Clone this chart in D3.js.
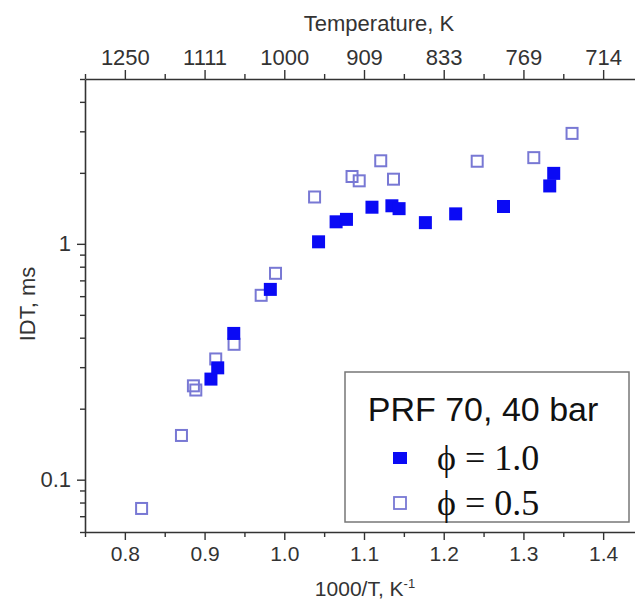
<!DOCTYPE html>
<html>
<head>
<meta charset="utf-8">
<script src="https://cdn.jsdelivr.net/npm/d3@7"></script>
<style>
  html, body { margin: 0; padding: 0; background: #fff; }
  svg { display: block; }
</style>
</head>
<body>
<svg id="chart" width="635" height="602"></svg>
<script>
// ---- data ----
const phi10X = [0.908, 0.9165, 0.9366, 0.9825, 1.043, 1.065, 1.078, 1.110, 1.135, 1.144, 1.177, 1.215, 1.275, 1.333, 1.338];
const phi10Y = [0.267, 0.298, 0.417, 0.641, 1.02, 1.24, 1.27, 1.43, 1.45, 1.41, 1.23, 1.34, 1.44, 1.76, 1.99];
const phi05X = [0.821, 0.871, 0.886, 0.889, 0.914, 0.937, 0.971, 0.989, 1.038, 1.085, 1.094, 1.121, 1.137, 1.242, 1.313, 1.361];
const phi05Y = [0.0755, 0.154, 0.250, 0.240, 0.325, 0.375, 0.605, 0.75, 1.58, 1.93, 1.85, 2.25, 1.88, 2.24, 2.32, 2.94];
const xTicks = [0.8, 0.9, 1.0, 1.1, 1.2, 1.3, 1.4];
const xTickLabels = ["0.8", "0.9", "1.0", "1.1", "1.2", "1.3", "1.4"];
const xMinorTicks = [0.75, 0.85, 0.95, 1.05, 1.15, 1.25, 1.35];
const tempLabels = ["1250", "1111", "1000", "909", "833", "769", "714"];
const yTicks = [0.1, 1];
const yTickLabels = ["0.1", "1"];
const yMinorTicks = [0.06, 0.07, 0.08, 0.09, 0.2, 0.3, 0.4, 0.5, 0.6, 0.7, 0.8, 0.9, 2, 3, 4, 5];
const legendTitle = "PRF 70, 40 bar";
const seriesNames = ["\u03D5 = 1.0", "\u03D5 = 0.5"];
const xLabel = "1000/T, K";
const topLabel = "Temperature, K";
const yLabel = "IDT, ms";

// ---- layout ----
const mLeft = 85, mTop = 79, mRight = 643, mBottom = 532;
const sans = "'Liberation Sans', Arial, sans-serif";
const serif = "'Liberation Serif', 'Times New Roman', serif";
const axisColor = "#333";
const textColor = "#333";
const fillBlue = "#0a0af5";
const openBlue = "#7878d4";

const svg = d3.select("#chart");
const x = d3.scaleLinear().domain([0.75, 1.45]).range([mLeft, mRight]);
const y = d3.scaleLog().domain([0.06, 5]).range([mBottom, mTop]);

function styleAxis(g, fs) {
  g.selectAll("path.domain").attr("stroke", axisColor).attr("stroke-width", 1.6);
  g.selectAll(".tick line").attr("stroke", axisColor).attr("stroke-width", 1.4);
  g.selectAll(".tick text").attr("fill", textColor).style("font-family", sans).style("font-size", fs + "px");
}

// bottom axis
const gB = svg.append("g").attr("transform", `translate(0,${mBottom})`);
gB.call(d3.axisBottom(x).tickValues(xMinorTicks).tickSize(5).tickSizeOuter(0).tickFormat(""));
gB.append("g").call(d3.axisBottom(x).tickValues(xTicks).tickSize(8).tickSizeOuter(0)
  .tickFormat((d, i) => xTickLabels[i]).tickPadding(6)).select("path.domain").remove();
styleAxis(gB, 21);

// top axis
const gT = svg.append("g").attr("transform", `translate(0,${mTop})`);
gT.call(d3.axisTop(x).tickValues(xMinorTicks).tickSize(5).tickSizeOuter(0).tickFormat(""));
gT.append("g").call(d3.axisTop(x).tickValues(xTicks).tickSize(9).tickSizeOuter(0)
  .tickFormat((d, i) => tempLabels[i]).tickPadding(5)).select("path.domain").remove();
styleAxis(gT, 22);

// left axis
const gL = svg.append("g").attr("transform", `translate(${mLeft},0)`);
gL.call(d3.axisLeft(y).tickValues(yMinorTicks).tickSize(5).tickSizeOuter(0).tickFormat(""));
gL.append("g").call(d3.axisLeft(y).tickValues(yTicks).tickSize(8).tickSizeOuter(0)
  .tickFormat((d, i) => yTickLabels[i]).tickPadding(6)).select("path.domain").remove();
styleAxis(gL, 22);

// axis titles
svg.append("text").attr("x", 379).attr("y", 31).attr("text-anchor", "middle")
  .style("font-family", sans).style("font-size", "22px").attr("fill", textColor).text(topLabel);
const xl = svg.append("text").attr("x", 365).attr("y", 596).attr("text-anchor", "middle")
  .style("font-family", sans).style("font-size", "21px").attr("fill", textColor);
xl.append("tspan").text(xLabel);
xl.append("tspan").attr("dy", -8).style("font-size", "13px").text("-1");
svg.append("text").attr("transform", "translate(35,304) rotate(-90)").attr("text-anchor", "middle")
  .style("font-family", sans).style("font-size", "22px").attr("fill", textColor).text(yLabel);

// data
const S = 13;
const d10 = phi10X.map((v, i) => ({ x: v, y: phi10Y[i] }));
const d05 = phi05X.map((v, i) => ({ x: v, y: phi05Y[i] }));

svg.append("g").selectAll("rect").data(d05).join("rect")
  .attr("x", d => x(d.x) - (S - 2) / 2).attr("y", d => y(d.y) - (S - 2) / 2)
  .attr("width", S - 2).attr("height", S - 2)
  .attr("fill", "none").attr("stroke", openBlue).attr("stroke-width", 2);

svg.append("g").selectAll("rect").data(d10).join("rect")
  .attr("x", d => x(d.x) - S / 2).attr("y", d => y(d.y) - S / 2)
  .attr("width", S).attr("height", S).attr("fill", fillBlue);

// legend
const lg = svg.append("g");
lg.append("rect").attr("x", 345).attr("y", 372).attr("width", 284).attr("height", 150)
  .attr("fill", "#fff").attr("stroke", "#777").attr("stroke-width", 1.5);
lg.append("text").attr("x", 483).attr("y", 421).attr("text-anchor", "middle")
  .style("font-family", sans).style("font-size", "34px").attr("fill", "#111").text(legendTitle);
lg.append("rect").attr("x", 400 - 7).attr("y", 458 - 6).attr("width", 14).attr("height", 12).attr("fill", fillBlue);
lg.append("rect").attr("x", 400 - 6).attr("y", 503 - 6).attr("width", 12).attr("height", 12)
  .attr("fill", "none").attr("stroke", openBlue).attr("stroke-width", 1.8);
lg.append("text").attr("x", 437).attr("y", 470)
  .style("font-family", serif).style("font-size", "36px").attr("fill", "#111").text(seriesNames[0]);
lg.append("text").attr("x", 437).attr("y", 515)
  .style("font-family", serif).style("font-size", "36px").attr("fill", "#111").text(seriesNames[1]);
</script>
</body>
</html>
